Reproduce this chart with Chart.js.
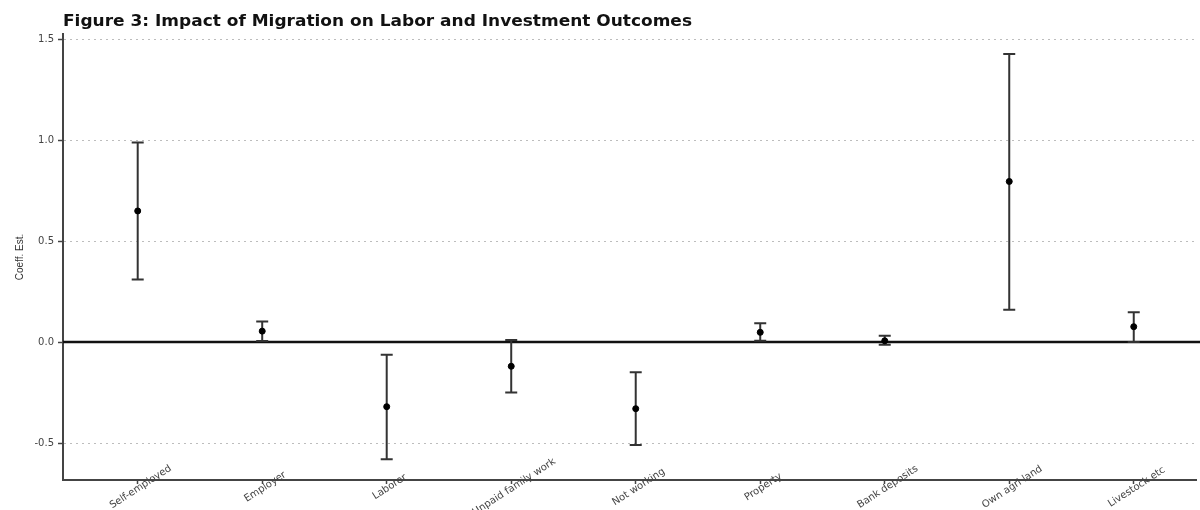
<!DOCTYPE html>
<html>
<head>
<meta charset="utf-8">
<script src="https://cdn.jsdelivr.net/npm/chart.js@4.4.0/dist/chart.umd.min.js"></script>
<style>
  html, body { margin: 0; padding: 0; background: #fff; overflow: hidden; }
  #wrap { width: 1200px; height: 510px; position: relative; }
</style>
</head>
<body>
<div id="wrap"><canvas id="coef-chart"></canvas></div>
<script>
const chartTitle = 'Figure 3: Impact of Migration on Labor and Investment Outcomes';
const categories = ['Self-employed', 'Employer', 'Laborer', 'Unpaid family work', 'Not working',
    'Property', 'Bank deposits', 'Own agri land', 'Livestock etc'];
const estimates = [0.649, 0.054, -0.32, -0.12, -0.33, 0.048, 0.006, 0.795, 0.076];
const upper = [0.988, 0.102, -0.063, 0.01, -0.15, 0.093, 0.031, 1.426, 0.147];
const lower = [0.309, 0.005, -0.58, -0.25, -0.51, 0.006, -0.013, 0.16, 0.0];
const yTicks = [-0.5, 0, 0.5, 1, 1.5];

(() => {
    const ctx = document.getElementById('coef-chart').getContext('2d');

    // error bars, zero line, rotated category labels and the title
    const coefPlugin = {
        id: 'coefPlugin',
        beforeDatasetsDraw(chart) {
            const c = chart.ctx;
            const x = chart.scales.x;
            const y = chart.scales.y;
            const area = chart.chartArea;
            c.save();
            // zero line
            c.strokeStyle = '#111';
            c.lineWidth = 2.5;
            c.beginPath();
            c.moveTo(area.left, y.getPixelForValue(0));
            c.lineTo(chart.width, y.getPixelForValue(0));
            c.stroke();
            // error bars
            c.strokeStyle = '#333';
            c.lineWidth = 2;
            categories.forEach((cat, i) => {
                const px = x.getPixelForValue(i);
                const hi = y.getPixelForValue(upper[i]);
                const lo = y.getPixelForValue(lower[i]);
                c.beginPath();
                c.moveTo(px, hi);
                c.lineTo(px, lo);
                c.moveTo(px - 6, hi);
                c.lineTo(px + 6, hi);
                c.moveTo(px - 6, lo);
                c.lineTo(px + 6, lo);
                c.stroke();
            });
            c.restore();
        },
        afterDraw(chart) {
            const c = chart.ctx;
            const x = chart.scales.x;
            const area = chart.chartArea;
            c.save();
            c.fillStyle = '#444';
            c.font = '10px "DejaVu Sans"';
            c.textAlign = 'center';
            c.textBaseline = 'middle';
            categories.forEach((cat, i) => {
                c.save();
                c.translate(x.getPixelForValue(i) + 3, area.bottom + 7);
                c.rotate(-33 * Math.PI / 180);
                c.fillText(cat, 0, 0);
                c.restore();
            });
            // title is stretched wide in the original
            c.fillStyle = '#111';
            c.font = 'bold 15px "DejaVu Sans"';
            c.textAlign = 'left';
            c.textBaseline = 'alphabetic';
            c.translate(area.left, 26);
            c.scale(629 / c.measureText(chartTitle).width, 1);
            c.fillText(chartTitle, 0, 0);
            c.restore();
        }
    };

    new Chart(ctx, {
        type: 'scatter',
        data: {
            datasets: [{
                label: 'Coeff. Est.',
                data: estimates.map((v, i) => ({ x: i, y: v })),
                backgroundColor: '#000',
                borderColor: '#000',
                pointRadius: 3,
                pointHoverRadius: 3,
            }]
        },
        options: {
            responsive: true,
            maintainAspectRatio: false,
            animation: false,
            layout: { padding: { top: 34, left: 0, right: 0, bottom: 0 } },
            plugins: {
                legend: { display: false },
                tooltip: { enabled: false },
            },
            scales: {
                x: {
                    type: 'linear',
                    min: -0.6,
                    max: 8.5,
                    afterBuildTicks: (scale) => {
                        scale.ticks = categories.map((c, i) => ({ value: i }));
                    },
                    afterFit: (scale) => { scale.height = 30; },
                    ticks: { display: false },
                    grid: {
                        drawOnChartArea: false,
                        drawTicks: true,
                        tickLength: 4,
                        tickColor: '#444',
                        tickWidth: 1.5,
                    },
                    border: { color: '#444', width: 2 },
                },
                y: {
                    min: -0.683,
                    max: 1.525,
                    afterBuildTicks: (scale) => {
                        scale.ticks = yTicks.map(v => ({ value: v }));
                    },
                    afterFit: (scale) => { scale.width = 63; },
                    ticks: {
                        color: '#444',
                        padding: 4,
                        font: { family: 'DejaVu Sans', size: 10 },
                        callback: (v) => v.toFixed(1),
                    },
                    grid: {
                        color: '#bdbdbd',
                        lineWidth: 1,
                        drawTicks: true,
                        tickLength: 5,
                        tickColor: '#444',
                        tickWidth: 1.5,
                        tickBorderDash: [],
                    },
                    border: { color: '#444', width: 2, dash: [2, 4] },
                    title: {
                        display: true,
                        text: 'Coeff. Est.',
                        color: '#333',
                        font: { family: 'Liberation Sans', size: 10 },
                        padding: { top: 14, bottom: 0 },
                    },
                }
            }
        },
        plugins: [coefPlugin]
    });
})();
</script>
</body>
</html>
